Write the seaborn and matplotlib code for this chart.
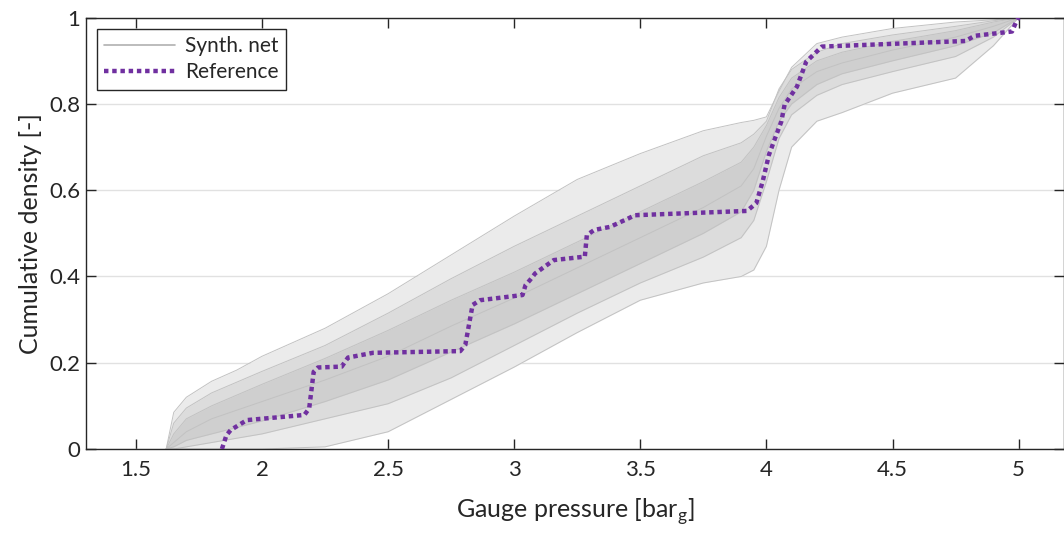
import numpy as np
import pandas as pd
import matplotlib
matplotlib.use("Agg")
import matplotlib.pyplot as plt
from matplotlib.lines import Line2D
import seaborn as sns

# Pressure grid shared by the synthetic-network spread curves (bar_g)
band_p = [1.62, 1.65, 1.70, 1.80, 1.90, 2.00, 2.25, 2.50, 2.75, 3.00, 3.25, 3.50,
          3.75, 3.90, 3.95, 4.00, 4.05, 4.10, 4.20, 4.30, 4.50, 4.75, 4.90, 5.00]

# Spread of the synthetic-network cumulative densities on that grid
synth_min = [0.0, 0.0, 0.0, 0.0, 0.0, 0.0, 0.005, 0.04, 0.115, 0.19, 0.27, 0.345,
             0.385, 0.40, 0.415, 0.47, 0.60, 0.70, 0.76, 0.78, 0.825, 0.86, 0.935, 1.0]
synth_q10 = [0.0, 0.0, 0.005, 0.015, 0.025, 0.035, 0.07, 0.105, 0.165, 0.24, 0.315, 0.385,
             0.445, 0.49, 0.53, 0.62, 0.72, 0.775, 0.82, 0.845, 0.875, 0.91, 0.955, 1.0]
synth_q25 = [0.0, 0.005, 0.02, 0.035, 0.05, 0.065, 0.11, 0.16, 0.225, 0.29, 0.36, 0.43,
             0.50, 0.55, 0.60, 0.69, 0.76, 0.80, 0.845, 0.87, 0.90, 0.935, 0.965, 1.0]
synth_q50 = [0.0, 0.015, 0.04, 0.07, 0.09, 0.11, 0.16, 0.215, 0.285, 0.35, 0.42, 0.49,
             0.56, 0.61, 0.65, 0.725, 0.79, 0.835, 0.875, 0.895, 0.925, 0.955, 0.98, 1.0]
synth_q75 = [0.0, 0.035, 0.07, 0.10, 0.125, 0.15, 0.21, 0.275, 0.345, 0.41, 0.48, 0.55,
             0.62, 0.665, 0.70, 0.75, 0.815, 0.86, 0.90, 0.92, 0.945, 0.97, 0.99, 1.0]
synth_q90 = [0.0, 0.06, 0.095, 0.13, 0.155, 0.18, 0.24, 0.315, 0.395, 0.47, 0.54, 0.61,
             0.68, 0.71, 0.73, 0.76, 0.835, 0.88, 0.92, 0.94, 0.96, 0.98, 0.993, 1.0]
synth_max = [0.0, 0.085, 0.12, 0.157, 0.183, 0.215, 0.28, 0.36, 0.45, 0.54, 0.625, 0.685,
             0.738, 0.757, 0.762, 0.77, 0.83, 0.885, 0.94, 0.955, 0.975, 0.99, 0.995, 1.0]

# Reference network cumulative density
ref_p = [1.841, 1.859, 1.876, 1.94, 2.168, 2.187, 2.205, 2.222, 2.316, 2.341, 2.44,
         2.786, 2.806, 2.835, 2.865, 3.033, 3.045, 3.063, 3.083, 3.157, 3.28, 3.288,
         3.318, 3.38, 3.454, 3.478, 3.923, 3.96, 3.985, 4.01, 4.034, 4.059, 4.072,
         4.121, 4.158, 4.22, 4.789, 4.826, 4.974, 4.99, 5.0]
ref_cd = [0.0, 0.032, 0.044, 0.067, 0.079, 0.094, 0.179, 0.189, 0.191, 0.212, 0.223,
          0.227, 0.241, 0.334, 0.345, 0.357, 0.380, 0.392, 0.407, 0.438, 0.446, 0.496,
          0.508, 0.515, 0.535, 0.542, 0.552, 0.57, 0.62, 0.682, 0.72, 0.759, 0.798,
          0.84, 0.898, 0.933, 0.946, 0.958, 0.968, 0.99, 1.0]

x_ticks = [1.5, 2, 2.5, 3, 3.5, 4, 4.5, 5]
x_ticklabels = ["1.5", "2", "2.5", "3", "3.5", "4", "4.5", "5"]
y_ticks = [0, 0.2, 0.4, 0.6, 0.8, 1]
y_ticklabels = ["0", "0.2", "0.4", "0.6", "0.8", "1"]

sns.set_style("ticks")
plt.rcParams["font.family"] = ["Lato", "DejaVu Sans"]
plt.rcParams["mathtext.fontset"] = "custom"
plt.rcParams["mathtext.rm"] = "Lato"

TEXT = "#262626"
PURPLE = "#7030A0"
DOTS = (0, (1.0, 0.85))

fig = plt.figure(figsize=(10.64, 5.33), dpi=100)
ax = fig.add_axes([0.0808, 0.1576, 0.9192, 0.8092])

# Shaded spread of the synthetic networks, darker towards the centre
ax.fill_between(band_p, synth_min, synth_max, color="#ebebeb", lw=0, zorder=1)
ax.fill_between(band_p, synth_q10, synth_q90, color="#dcdcdc", lw=0, zorder=1)
ax.fill_between(band_p, synth_q25, synth_q75, color="#cfcfcf", lw=0, zorder=1)

curves = {"min": synth_min, "q10": synth_q10, "q25": synth_q25, "q50": synth_q50,
          "q75": synth_q75, "q90": synth_q90, "max": synth_max}
long = pd.concat(
    [pd.DataFrame({"p": band_p, "cd": v, "curve": k}) for k, v in curves.items()],
    ignore_index=True)
sns.lineplot(data=long, x="p", y="cd", hue="curve", units="curve", estimator=None,
             palette=["#c2c2c2"] * len(curves), linewidth=0.7, legend=False,
             ax=ax, zorder=2)

ref = pd.DataFrame({"p": ref_p, "cd": ref_cd})
sns.lineplot(data=ref, x="p", y="cd", color=PURPLE, linewidth=3.2,
             linestyle=DOTS, estimator=None, ax=ax, zorder=3)

# Axes styling
ax.set_xlim(1.302, 5.18)
ax.set_ylim(0, 1)
ax.set_xticks(x_ticks)
ax.set_xticklabels(x_ticklabels)
ax.set_yticks(y_ticks)
ax.set_yticklabels(y_ticklabels)
ax.yaxis.grid(True, color="#e1e1e1", linewidth=1.0)
ax.xaxis.grid(False)
ax.set_axisbelow(True)
ax.tick_params(axis="both", direction="in", length=7, width=1.0, color=TEXT,
               labelcolor=TEXT, labelsize=16, top=True, right=True)
ax.tick_params(axis="x", pad=8)
ax.tick_params(axis="y", pad=4)
for s in ax.spines.values():
    s.set_color(TEXT)
    s.set_linewidth(1.0)

ax.set_xlabel("Gauge pressure [bar$_\\mathregular{g}$]", fontsize=18, color=TEXT,
              labelpad=12)
ax.set_ylabel("Cumulative density [-]", fontsize=18, color=TEXT, labelpad=5)

handles = [Line2D([], [], color="#b0b0b0", linewidth=1.2),
           Line2D([], [], color=PURPLE, linewidth=3.2, linestyle=DOTS)]
leg = ax.legend(handles, ["Synth. net", "Reference"], loc="upper left",
                bbox_to_anchor=(0.011, 0.974), fontsize=15, frameon=True,
                fancybox=False, framealpha=1, edgecolor=TEXT, handlelength=3.4,
                handletextpad=0.5, borderpad=0.35, labelspacing=0.3,
                borderaxespad=0)
leg.get_frame().set_linewidth(1.0)
for t in leg.get_texts():
    t.set_color(TEXT)

fig.savefig("out.png", dpi=100)
